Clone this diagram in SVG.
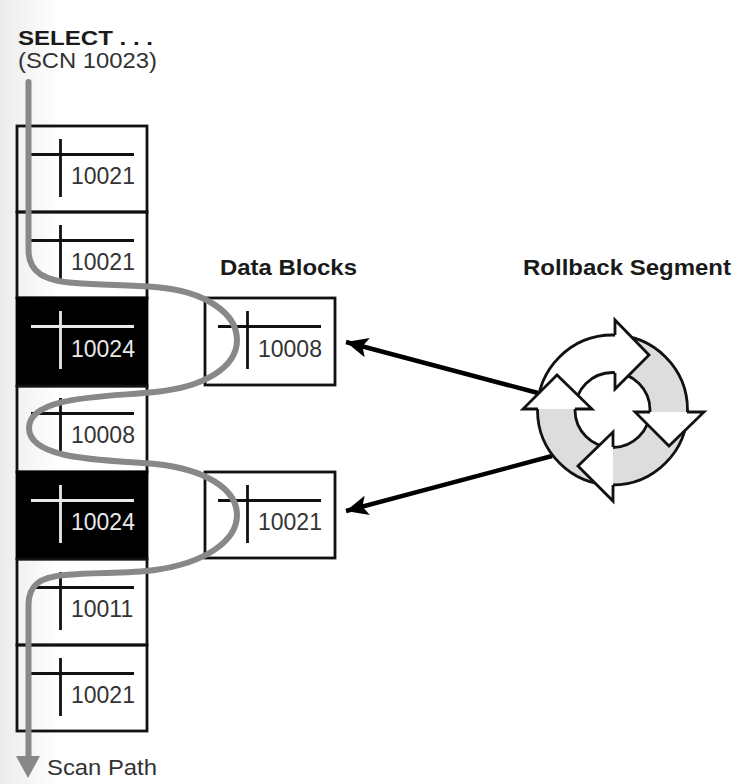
<svg xmlns="http://www.w3.org/2000/svg" width="748" height="784" viewBox="0 0 748 784">
<style>
text{font-family:"Liberation Sans",Arial,sans-serif;fill:#222}
.b{font-weight:bold;font-size:22px;fill:#1a1a1a}
.t{font-size:20.400px}
.l{font-size:22px;fill:#333}
.n{font-size:23px;fill:#333}
.box{fill:none;stroke:#111;stroke-width:2.800}
.dark{fill:#000;stroke:#000;stroke-width:2.800}
.cr{fill:none;stroke:#111;stroke-width:2.800}
.cw{fill:none;stroke:#e8e8e8;stroke-width:2.800}
.w{fill:#e8e8e8}
.scan{fill:none;stroke:#888;stroke-width:6;stroke-linecap:round}
.ar{stroke:#000;stroke-width:4.500;fill:none}
.edge{fill:none;stroke:#111;stroke-width:2.800;stroke-linejoin:miter}
</style>
<defs>
<linearGradient id="bg" x1="0" x2="1" y1="0" y2="0"><stop offset="0" stop-color="#ececec"/><stop offset="1" stop-color="#fff"/></linearGradient>
<marker id="ah" markerUnits="userSpaceOnUse" markerWidth="24" markerHeight="20" refX="22" refY="10" orient="auto"><path d="M0 0L22 10L0 20L5 10Z" fill="#000"/></marker>
<g id="c"><path class="cr" d="M14 28.500H117M43.500 13V71"/></g>
<g id="cw"><path class="cw" d="M14 28.500H117M43.500 13V71"/></g>
</defs>
<rect x="0" y="0" width="60" height="784" fill="url(#bg)"/>
<g id="title"><text class="b t" x="18" y="44.500" textLength="135" lengthAdjust="spacingAndGlyphs">SELECT . . .</text><text class="l t" x="18" y="68" textLength="139" lengthAdjust="spacingAndGlyphs">(SCN 10023)</text></g>
<g id="block-1"><rect class="box" x="17" y="126" width="130" height="86"/><use href="#c" x="17" y="126"/><text class="n" x="71" y="184">10021</text></g>
<g id="block-2"><rect class="box" x="17" y="212" width="130" height="86"/><use href="#c" x="17" y="212"/><text class="n" x="71" y="270">10021</text></g>
<g id="block-3"><rect class="dark" x="17" y="298" width="130" height="88"/><use href="#cw" x="17" y="298"/><text class="n w" x="71" y="357">10024</text></g>
<g id="block-4"><rect class="box" x="17" y="386" width="130" height="86"/><use href="#c" x="17" y="385"/><text class="n" x="71" y="443">10008</text></g>
<g id="block-5"><rect class="dark" x="17" y="472" width="130" height="87"/><use href="#cw" x="17" y="472"/><text class="n w" x="71" y="530">10024</text></g>
<g id="block-6"><rect class="box" x="17" y="559" width="130" height="86"/><use href="#c" x="17" y="559"/><text class="n" x="71" y="617">10011</text></g>
<g id="block-7"><rect class="box" x="17" y="645" width="130" height="86"/><use href="#c" x="17" y="645"/><text class="n" x="71" y="703">10021</text></g>
<g id="data-block-1"><rect class="box" x="205" y="298" width="130" height="87"/><use href="#c" x="204" y="298"/><text class="n" x="258" y="357">10008</text></g>
<g id="data-block-2"><rect class="box" x="205" y="472" width="130" height="86"/><use href="#c" x="204" y="472"/><text class="n" x="258" y="530">10021</text></g>
<g id="label-data"><text class="b" x="220" y="275" textLength="137" lengthAdjust="spacingAndGlyphs">Data Blocks</text></g>
<g id="label-rollback"><text class="b" x="523" y="275" textLength="208" lengthAdjust="spacingAndGlyphs">Rollback Segment</text></g>
<g id="label-scan"><text class="l" x="47" y="775" textLength="110" lengthAdjust="spacingAndGlyphs">Scan Path</text></g>
<g id="connectors">
<path class="scan" d="M28.500 82V250C28.500 272 44 281 75 283C100 285 130 285 155 287C205 291 237 313 237 340C237 367 205 387 155 392C110 397 29 395 29 428C29 461 110 460 155 464C205 469 237 489 237 515C237 541 205 563 155 570C125 574 95 572 65 575C40 577 28.500 585 28.500 605V760"/>
<path d="M16 756H40L28 778Z" fill="#888"/>
<path class="ar" marker-end="url(#ah)" d="M538 393L346 342"/>
<path class="ar" marker-end="url(#ah)" d="M552 456L346 511"/>
</g>
<g id="rollback-segment">
<path d="M612.500 335A75 75 0 1 1 612.500 485A75 75 0 1 1 612.500 335ZM612.500 372.500A37.500 37.500 0 1 0 612.500 447.500A37.500 37.500 0 1 0 612.500 372.500Z" fill="#ddd" fill-rule="evenodd"/>
<path d="M537.500 409A75 75 0 0 1 616 335V373A37.500 37.500 0 0 0 575 409Z" fill="#fff"/>
<circle class="edge" cx="612.500" cy="410" r="75"/><circle class="edge" cx="612.500" cy="410" r="37.500"/>
<path d="M615 320L649 355L615 389Z" fill="#fff"/><path class="edge" d="M615 335V320L649 355L615 389V373"/>
<path d="M635 412H704L669 446Z" fill="#fff"/><path class="edge" d="M650 412H635L669 446L704 412H687"/>
<path d="M613 501L578 466L613 432Z" fill="#fff"/><path class="edge" d="M613 485V501L578 466L613 432V447"/>
<path d="M523 409L557 375L592 409Z" fill="#fff"/><path class="edge" d="M538 409H523L557 375L592 409H575"/>
</g>
</svg>
